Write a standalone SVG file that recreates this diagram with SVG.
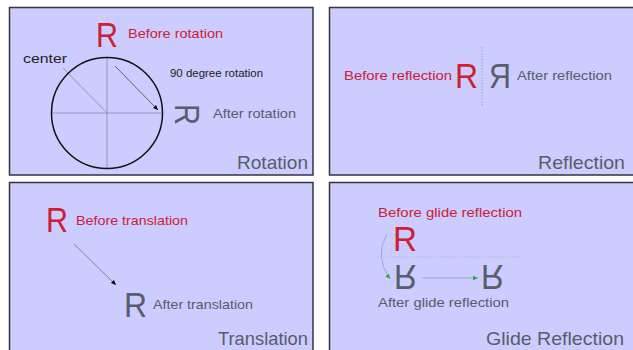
<svg xmlns="http://www.w3.org/2000/svg" width="633" height="350" viewBox="0 0 633 350">
<style>
.panel{fill:#ccccff;stroke:#333344;stroke-width:1.5}
text{font-family:"Liberation Sans",Arial,sans-serif}
.red{fill:#cc2035}
.gray{fill:#575d6a}
.lbl{font-size:13.5px}
.title{font-size:19px}
.big{font-size:35px}
.thin{stroke:#8888a8;stroke-width:0.8;fill:none}
.teal{stroke:#88aabb;stroke-width:0.8;fill:none}
</style>
<defs>
<marker id="ab" markerWidth="6" markerHeight="6" refX="5" refY="3" orient="auto" markerUnits="userSpaceOnUse"><path d="M0,0.8 L5,3 L0,5.2z" fill="#000"/></marker>
<marker id="ag" markerWidth="6" markerHeight="6" refX="5" refY="3" orient="auto" markerUnits="userSpaceOnUse"><path d="M0,0.8 L5,3 L0,5.2z" fill="#22aa44"/></marker>
</defs>
<g id="panel-rotation">
<rect class="panel" x="9.5" y="7.5" width="303.5" height="167.5"/>
<text class="red big" x="96" y="47" textLength="22" lengthAdjust="spacingAndGlyphs">R</text>
<text class="red lbl" x="128" y="38" textLength="95" lengthAdjust="spacingAndGlyphs">Before rotation</text>
<text x="23" y="63" font-size="13.5" fill="#222" textLength="44" lengthAdjust="spacingAndGlyphs">center</text>
<line class="thin" x1="51" y1="113" x2="163" y2="113"/>
<line class="thin" x1="107" y1="58" x2="107" y2="168"/>
<line class="thin" x1="63" y1="68" x2="107" y2="113"/>
<circle cx="107" cy="113" r="55.5" fill="none" stroke="#111" stroke-width="1.5"/>
<text x="170" y="77" font-size="10" fill="#222" textLength="93" lengthAdjust="spacingAndGlyphs">90 degree rotation</text>
<text class="gray big" transform="translate(176,107) rotate(90)" x="-3" y="1" textLength="21" lengthAdjust="spacingAndGlyphs">R</text>
<text class="gray lbl" x="213" y="118" textLength="83" lengthAdjust="spacingAndGlyphs">After rotation</text>
<text class="gray title" x="237" y="169" textLength="71" lengthAdjust="spacingAndGlyphs">Rotation</text>
</g>
<g id="panel-reflection">
<rect class="panel" x="329.5" y="7.5" width="305" height="167.5"/>
<text class="red lbl" x="344" y="80" textLength="108" lengthAdjust="spacingAndGlyphs">Before reflection</text>
<text class="red big" x="455" y="88" font-size="32" textLength="23" lengthAdjust="spacingAndGlyphs">R</text>
<line x1="482" y1="47" x2="482" y2="106" stroke="#88aabb" stroke-width="1" stroke-dasharray="1.5,1.5"/>
<text class="gray big" transform="translate(511,88) scale(-1,1)" font-size="32" x="0" y="0" textLength="22" lengthAdjust="spacingAndGlyphs">R</text>
<text class="gray lbl" x="517" y="80" textLength="95" lengthAdjust="spacingAndGlyphs">After reflection</text>
<text class="gray title" x="538" y="169" textLength="87" lengthAdjust="spacingAndGlyphs">Reflection</text>
</g>
<g id="panel-translation">
<rect class="panel" x="9.5" y="182.5" width="303.5" height="170"/>
<text class="red big" x="46" y="232" textLength="22" lengthAdjust="spacingAndGlyphs">R</text>
<text class="red lbl" x="76" y="225" textLength="112" lengthAdjust="spacingAndGlyphs">Before translation</text>
<text class="gray big" x="124" y="317" textLength="23" lengthAdjust="spacingAndGlyphs">R</text>
<text class="gray lbl" x="153" y="309" textLength="100" lengthAdjust="spacingAndGlyphs">After translation</text>
<text class="gray title" x="218" y="345" textLength="90" lengthAdjust="spacingAndGlyphs">Translation</text>
</g>
<g id="panel-glide">
<rect class="panel" x="329.5" y="182.5" width="305" height="170"/>
<text class="red lbl" x="378" y="217" textLength="144" lengthAdjust="spacingAndGlyphs">Before glide reflection</text>
<text class="red big" x="393" y="251" textLength="24" lengthAdjust="spacingAndGlyphs">R</text>
<line x1="377" y1="257" x2="522" y2="257" stroke="#99bbcc" stroke-width="0.8" stroke-dasharray="1.5,1.5"/>
<text class="gray big" transform="translate(394,265) scale(1,-1)" x="0" y="0" textLength="23" lengthAdjust="spacingAndGlyphs">R</text>
<text class="gray big" transform="translate(481,265) scale(1,-1)" x="0" y="0" textLength="23" lengthAdjust="spacingAndGlyphs">R</text>
<text class="gray lbl" x="378" y="307" textLength="131" lengthAdjust="spacingAndGlyphs">After glide reflection</text>
<text class="gray title" x="486" y="345" textLength="138" lengthAdjust="spacingAndGlyphs">Glide Reflection</text>
</g>
<g id="connectors">
<line x1="115" y1="66" x2="158" y2="110" stroke="#444" stroke-width="0.8" marker-end="url(#ab)"/>
<line x1="74" y1="244" x2="116" y2="285" stroke="#666" stroke-width="0.7" marker-end="url(#ab)"/>
<path d="M387,234 Q374,256 390,279" class="teal" marker-end="url(#ag)"/>
<line x1="422" y1="278" x2="478" y2="278" class="teal" marker-end="url(#ag)"/>
</g>
</svg>
